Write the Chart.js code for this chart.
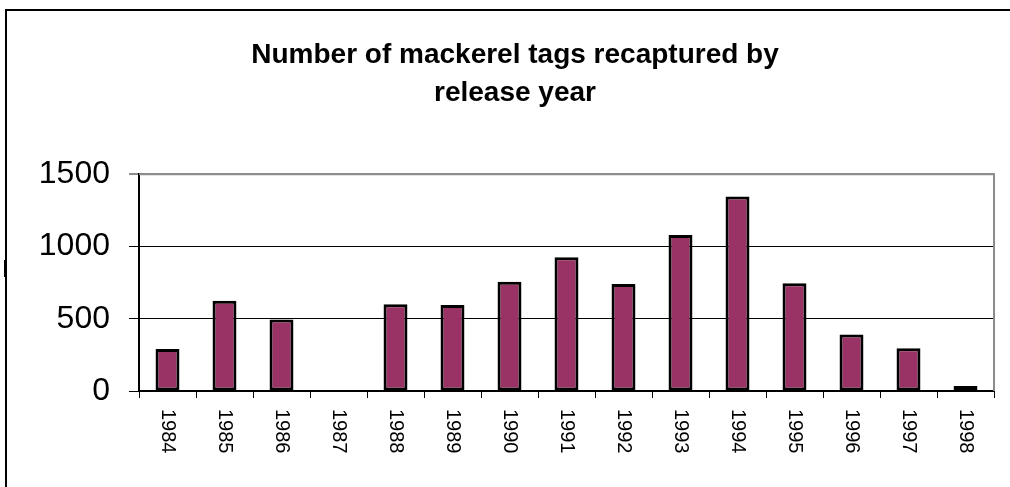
<!DOCTYPE html>
<html>
<head>
<meta charset="utf-8">
<script src="https://cdn.jsdelivr.net/npm/chart.js@4.4.1/dist/chart.umd.min.js"></script>
<style>
html,body{margin:0;padding:0;background:#fff;}
#c{display:block;}
</style>
</head>
<body>
<canvas id="c" width="1010" height="487"></canvas>
<script>
const years = ['1984','1985','1986','1987','1988','1989','1990','1991','1992','1993','1994','1995','1996','1997','1998'];
const recaptured = [290, 625, 495, 0, 600, 595, 755, 925, 740, 1080, 1345, 745, 390, 295, 35];
const yTicks = [0, 500, 1000, 1500];
const titleLines = ['Number of mackerel tags recaptured by', 'release year'];

const FONT = "'Liberation Sans', Arial, Helvetica, sans-serif";

const decor = {
  id: 'decor',
  beforeDraw(chart) {
    const ctx = chart.ctx;
    ctx.save();
    ctx.fillStyle = '#ffffff';
    ctx.fillRect(0, 0, chart.width, chart.height);
    ctx.strokeStyle = '#000';
    ctx.lineWidth = 2;
    ctx.beginPath();
    ctx.moveTo(6, 487);
    ctx.lineTo(6, 10);
    ctx.lineTo(1010, 10);
    ctx.stroke();
    ctx.fillStyle = '#000';
    ctx.fillRect(4, 260, 2, 17);
    ctx.restore();
  },
  beforeDatasetsDraw(chart) {
    const ctx = chart.ctx;
    const a = chart.chartArea;
    ctx.save();
    ctx.strokeStyle = '#8c8c8c';
    ctx.lineWidth = 2;
    ctx.beginPath();
    ctx.moveTo(a.left, a.top);
    ctx.lineTo(a.right, a.top);
    ctx.lineTo(a.right, a.bottom);
    ctx.stroke();
    ctx.restore();
  },
  afterDraw(chart) {
    const ctx = chart.ctx;
    const xs = chart.scales.x;
    ctx.save();
    ctx.fillStyle = '#000';
    ctx.font = '20px ' + FONT;
    ctx.textAlign = 'left';
    ctx.textBaseline = 'middle';
    years.forEach((lab, i) => {
      const x = xs.getPixelForValue(i);
      ctx.save();
      ctx.translate(x, 409);
      ctx.rotate(Math.PI / 2);
      ctx.fillText(lab, 0, 0);
      ctx.restore();
    });
    ctx.restore();
  }
};

new Chart(document.getElementById('c'), {
  type: 'bar',
  data: {
    labels: years,
    datasets: [{
      data: recaptured,
      backgroundColor: '#993366',
      borderColor: '#000000',
      borderWidth: 3,
      borderSkipped: false,
      barPercentage: 0.42,
      categoryPercentage: 1.0
    }]
  },
  options: {
    responsive: false,
    animation: false,
    devicePixelRatio: 1,
    layout: { padding: { left: 36, right: 16, top: 0, bottom: 0 } },
    plugins: {
      legend: { display: false },
      tooltip: { enabled: false },
      title: {
        display: true,
        text: titleLines,
        color: '#000',
        font: { family: FONT, size: 28, weight: 'bold', lineHeight: 1.36 },
        padding: { top: 36, bottom: 62 }
      }
    },
    scales: {
      x: {
        offset: true,
        grid: {
          offset: true,
          drawOnChartArea: false,
          drawTicks: true,
          tickLength: 7,
          color: '#000',
          lineWidth: 1
        },
        border: { display: true, color: '#000', width: 2 },
        ticks: { display: false },
        afterFit(s) { s.height = 96; }
      },
      y: {
        min: 0,
        max: 1500,
        afterBuildTicks(s) { s.ticks = yTicks.map(v => ({ value: v })); },
        grid: {
          color: (c) => (c.tick && c.tick.value === 1500) ? '#8c8c8c' : '#000',
          lineWidth: (c) => (c.tick && c.tick.value === 1500) ? 2 : 1,
          tickLength: 10,
          drawTicks: true
        },
        border: { display: true, color: '#000', width: 2 },
        ticks: {
          color: '#000',
          padding: 19,
          font: { family: FONT, size: 32 },
          callback: (v) => String(v)
        },
        afterFit(s) { s.width = 103; }
      }
    }
  },
  plugins: [decor]
});
</script>
</body>
</html>
